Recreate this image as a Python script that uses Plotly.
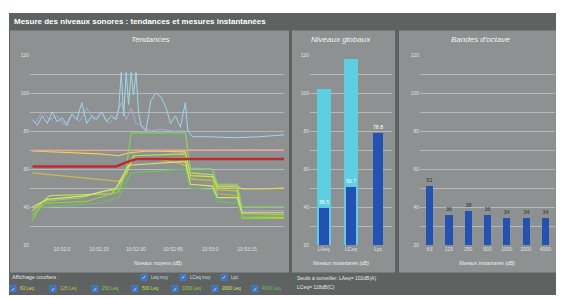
import plotly.graph_objects as go
import pandas as pd

# Page has an 8px body margin: figure is placed at (8, 8) in the window.
OX, OY = 8, 8
W, H = 556, 290
DAY = "2024-05-14 "

# ---------------- data ----------------
time_ticks = ["10:52:00", "10:52:15", "10:52:30", "10:52:45", "10:53:00", "10:53:15"]
time_tick_labels = ["10:52:0", "10:52:15", "10:52:30", "10:52:45", "10:53:0", "10:53:15"]
time_range = ["10:51:47", "10:53:30"]

leq_moy_t = ["10:51:48", "10:52:22", "10:52:26", "10:52:30", "10:53:30"]
leq_moy_v = [61.4, 61.4, 63.5, 65.3, 65.3]

lceq_moy_t = ["10:51:48", "10:53:30"]
lceq_moy_v = [69.8, 70.0]

lpc_t = ["10:51:48", "10:51:50", "10:51:52", "10:51:54", "10:51:56", "10:51:58",
         "10:52:00", "10:52:02", "10:52:04", "10:52:06", "10:52:08", "10:52:10",
         "10:52:12", "10:52:14", "10:52:16", "10:52:18", "10:52:20", "10:52:22",
         "10:52:23", "10:52:24", "10:52:25", "10:52:26", "10:52:27", "10:52:28",
         "10:52:29", "10:52:30", "10:52:31", "10:52:32", "10:52:34", "10:52:36",
         "10:52:38", "10:52:40", "10:52:42", "10:52:44", "10:52:46", "10:52:48",
         "10:52:50", "10:52:51", "10:52:53", "10:53:00", "10:53:10", "10:53:20",
         "10:53:30"]
lpc_v = [86, 83, 88, 84, 90, 85, 87, 83, 89, 86, 95, 84, 88, 86, 90, 85, 88, 86,
         92, 111, 88, 111, 94, 111, 99, 111, 90, 83, 80, 96, 100, 98, 93, 84, 88, 82,
         95, 80, 77, 77, 76.5, 77, 78]

laeq_t = ["10:51:49", "10:51:52", "10:51:55", "10:51:58", "10:52:01", "10:52:04",
          "10:52:07", "10:52:10", "10:52:13", "10:52:16", "10:52:19", "10:52:22",
          "10:52:24", "10:52:26", "10:52:28", "10:52:30", "10:52:33", "10:52:36",
          "10:52:40", "10:52:45", "10:52:50", "10:52:52", "10:53:01", "10:53:03",
          "10:53:11", "10:53:13", "10:53:30"]
laeq_v = [84, 90, 86, 88, 83, 89, 85, 92, 86, 90, 84, 88, 95, 86, 92, 84, 82, 80,
          81, 80, 80, 60, 60, 52, 52, 38, 38]

b63_t = ["10:51:48", "10:52:00", "10:52:15", "10:52:23", "10:52:27", "10:52:35", "10:52:50",
         "10:52:52", "10:53:01", "10:53:03", "10:53:11", "10:53:13", "10:53:20", "10:53:30"]
b63_v = [69.5, 69, 68, 67, 68.5, 69.5, 69, 56.5, 56, 51, 51, 49.5, 49.5, 50]

b125_t = ["10:51:48", "10:52:00", "10:52:10", "10:52:23", "10:52:26", "10:52:29", "10:52:40",
          "10:52:48", "10:52:51", "10:52:52", "10:53:01", "10:53:03", "10:53:11", "10:53:13",
          "10:53:30"]
b125_v = [58, 56.5, 55, 53.5, 58, 66, 65, 63, 61, 54.5, 54, 49, 48.5, 36.5, 36]

b250_t = ["10:51:48", "10:51:52", "10:52:00", "10:52:08", "10:52:15", "10:52:23", "10:52:26",
          "10:52:28", "10:52:50", "10:52:52", "10:53:01", "10:53:03", "10:53:11", "10:53:13",
          "10:53:30"]
b250_v = [33, 42.7, 44, 45, 47.8, 49.4, 60, 79, 79, 60.5, 60, 52, 52, 40, 40]

b500_t = ["10:51:48", "10:51:55", "10:52:20", "10:52:26", "10:52:29", "10:52:50", "10:52:52",
          "10:53:01", "10:53:03", "10:53:11", "10:53:13", "10:53:30"]
b500_v = [38, 46, 47, 57, 67, 68, 58, 57, 50, 50, 35, 34.5]

b1000_t = ["10:51:48", "10:51:53", "10:52:10", "10:52:23", "10:52:28", "10:52:50", "10:52:52",
           "10:53:01", "10:53:03", "10:53:11", "10:53:13", "10:53:30"]
b1000_v = [36, 42, 43, 48, 65, 66, 55, 54, 47, 46, 34, 34]

b2000_t = ["10:51:48", "10:51:54", "10:52:10", "10:52:22", "10:52:27", "10:52:50", "10:52:52",
           "10:53:01", "10:53:03", "10:53:11", "10:53:13", "10:53:30"]
b2000_v = [40, 44, 46, 50, 62, 64, 52, 51, 45, 45, 37, 37]

b4000_t = ["10:51:48", "10:51:52", "10:52:15", "10:52:23", "10:52:28", "10:52:50", "10:52:52",
           "10:53:01", "10:53:03", "10:53:11", "10:53:13", "10:53:30"]
b4000_v = [35, 40, 42, 45, 58, 60, 50, 49, 43, 42, 35, 35.5]

glob_cats = ["LAeq", "LCeq", "Lpc"]
glob_seuils = [102, 118, None]
glob_vals = [39.5, 50.7, 78.8]
glob_labels = ["39.5", "50.7", "78.8"]

oct_cats = ["63", "125", "250", "500", "1000", "2000", "4000"]
oct_vals = [51, 36, 38, 36, 34, 34, 34]
oct_labels = ["51", "36", "38", "36", "34", "34", "34"]

y_ticks = [20, 30, 40, 50, 60, 70, 80, 90, 100, 110, 120]
y_tick_labels = ["20", "", "40", "", "60", "", "80", "", "100", "", "120"]

title_text = "Mesure des niveaux sonores : tendances et mesures instantanées"
panel_titles = ["Tendances", "Niveaux globaux", "Bandes d'octave"]
axis_titles = ["Niveaux moyens (dB)", "Niveaux instantanés (dB)", "Niveaux instantanés (dB)"]
row1_labels = ["Leq moy", "LCeq moy", "Lpc"]
row2_labels = ["63 Leq", "125 Leq", "250 Leq", "500 Leq", "1000 Leq", "2000 Leq", "4000 Leq"]
seuil_lines = ["Seuils à surveiller: LAeq= 102dB(A)", "LCeq= 118dB(C)"]

# ---------------- styles ----------------
FONT = "Liberation Sans"
BG_DARK = "#5e6260"
PANEL = "#8e9191"
GRID = "#b6b9b9"
TICK = "#dfe1e1"
band_colors = ["#e4d84e", "#cdb94c", "#7fd35a", "#b9e24e", "#a2c842", "#d8e274", "#68c262"]
row1_colors = ["#c9d9f0", "#b8e6f0", "#d8d8f2"]


def ts(lst):
    return pd.to_datetime([DAY + s for s in lst])


def px(x):
    return (x - OX) / W


def py(y):
    return 1 - (y - OY) / H


fig = go.Figure()

# Trend lines
bands = [(b63_t, b63_v), (b125_t, b125_v), (b250_t, b250_v), (b500_t, b500_v),
         (b1000_t, b1000_v), (b2000_t, b2000_v), (b4000_t, b4000_v)]
fig.add_trace(go.Scatter(x=ts(laeq_t), y=laeq_v, mode="lines",
                         line=dict(color="#aba7dc", width=1), xaxis="x", yaxis="y"))
fig.add_trace(go.Scatter(x=ts(lpc_t), y=lpc_v, mode="lines",
                         line=dict(color="#9dd8e8", width=1), xaxis="x", yaxis="y"))
for (bt, bv), c in zip(bands, band_colors):
    fig.add_trace(go.Scatter(x=ts(bt), y=bv, mode="lines",
                             line=dict(color=c, width=1.2), xaxis="x", yaxis="y"))
fig.add_trace(go.Scatter(x=ts(lceq_moy_t), y=lceq_moy_v, mode="lines",
                         line=dict(color="#e8a2a0", width=1.5), xaxis="x", yaxis="y"))
fig.add_trace(go.Scatter(x=ts(leq_moy_t), y=leq_moy_v, mode="lines",
                         line=dict(color="#c3282c", width=2.5), xaxis="x", yaxis="y"))

# Global levels
fig.add_trace(go.Bar(x=glob_cats, y=glob_seuils, width=0.5, marker=dict(color="#5ccfe0", line=dict(width=0)),
                     xaxis="x2", yaxis="y2"))
fig.add_trace(go.Bar(x=glob_cats, y=glob_vals, width=0.36, marker=dict(color="#2452b4", line=dict(width=0)),
                     text=glob_labels, textposition="outside", cliponaxis=False,
                     textfont=dict(size=5.5, color="#ffffff", family=FONT),
                     xaxis="x2", yaxis="y2"))

# Octave bands
fig.add_trace(go.Bar(x=oct_cats, y=oct_vals, width=0.37, marker=dict(color="#2452b4", line=dict(width=0)),
                     text=oct_labels, textposition="outside", cliponaxis=False,
                     textfont=dict(size=5.5, color="#333333", family=FONT),
                     xaxis="x3", yaxis="y3"))

# ---------------- layout ----------------
shapes = [
    dict(type="rect", xref="paper", yref="paper", x0=px(9), x1=px(563), y0=py(298), y1=py(10),
         fillcolor=BG_DARK, line=dict(width=0), layer="below"),
]
for (x0, x1) in [(10, 289), (292, 395), (399, 561)]:
    shapes.append(dict(type="rect", xref="paper", yref="paper", x0=px(x0), x1=px(x1),
                       y0=py(275), y1=py(28), fillcolor=PANEL, line=dict(width=0), layer="below"))

annotations = [
    dict(text="<b>" + title_text + "</b>", x=px(12), y=py(19), xref="paper", yref="paper",
         xanchor="left", yanchor="middle", showarrow=False,
         font=dict(family=FONT, size=8, color="#ffffff")),
]
for t, xc in zip(panel_titles, [150, 341, 480]):
    annotations.append(dict(text=t, x=px(xc), y=py(37), xref="paper", yref="paper",
                            xanchor="center", yanchor="middle", showarrow=False,
                            font=dict(family=FONT, size=8, color="#f4f4f4", style="italic")))
for t, xc in zip(axis_titles, [158, 341, 487]):
    annotations.append(dict(text=t, x=px(xc), y=py(265), xref="paper", yref="paper",
                            xanchor="center", yanchor="middle", showarrow=False,
                            font=dict(family=FONT, size=5, color="#eeeeee", style="italic")))

annotations.append(dict(text="Affichage courbes :", x=px(10), y=py(280), xref="paper", yref="paper",
                        xanchor="left", yanchor="middle", showarrow=False,
                        font=dict(family=FONT, size=5.5, color="#e8e8e8")))


def checkbox(xc, yc, label, color):
    shapes.append(dict(type="rect", xref="paper", yref="paper",
                       x0=px(xc - 3), x1=px(xc + 3), y0=py(yc + 3), y1=py(yc - 3),
                       fillcolor="#2f72d6", line=dict(color="#5a90e0", width=0.5)))
    annotations.append(dict(text="✓", x=px(xc), y=py(yc), xref="paper", yref="paper",
                            xanchor="center", yanchor="middle", showarrow=False,
                            font=dict(family="DejaVu Sans", size=5, color="#ffffff")))
    annotations.append(dict(text=label, x=px(xc + 5), y=py(yc), xref="paper", yref="paper",
                            xanchor="left", yanchor="middle", showarrow=False,
                            font=dict(family=FONT, size=4.5, color=color)))


for lbl, xc, c in zip(row1_labels, [144, 183, 224], row1_colors):
    checkbox(xc, 280, lbl, c)
for lbl, xc, c in zip(row2_labels, [13, 53, 95, 135, 175, 215, 255], band_colors):
    checkbox(xc, 291.5, lbl, c)

for i, (t, yc) in enumerate(zip(seuil_lines, [281, 289.5])):
    annotations.append(dict(text=t, x=px(295), y=py(yc), xref="paper", yref="paper",
                            xanchor="left", yanchor="middle", showarrow=False,
                            font=dict(family=FONT, size=5, color="#e8e8e8")))

ydom = [py(247), py(53)]
yax_common = dict(range=[20, 120], tickvals=y_ticks, ticktext=y_tick_labels,
                  showgrid=True, gridcolor=GRID, gridwidth=1, zeroline=False, showline=False,
                  ticks="", tickfont=dict(family=FONT, size=5, color=TICK), fixedrange=True)
xax_common = dict(showgrid=False, zeroline=False, showline=False, ticks="",
                  tickfont=dict(family=FONT, size=5, color=TICK))

fig.update_layout(
    width=W, height=H, margin=dict(l=0, r=0, t=0, b=0),
    paper_bgcolor="#ffffff", plot_bgcolor="rgba(0,0,0,0)",
    showlegend=False, barmode="overlay", bargap=0,
    shapes=shapes, annotations=annotations,
    xaxis=dict(domain=[px(30), px(284)], anchor="y", type="date",
               range=[DAY + time_range[0], DAY + time_range[1]],
               tickvals=[DAY + s for s in time_ticks], ticktext=time_tick_labels, **xax_common),
    yaxis=dict(domain=ydom, anchor="x", **yax_common),
    xaxis2=dict(domain=[px(310), px(392)], anchor="y2", type="category",
                range=[-0.5, 2.5], **xax_common),
    yaxis2=dict(domain=ydom, anchor="x2", **yax_common),
    xaxis3=dict(domain=[px(420), px(555)], anchor="y3", type="category",
                range=[-0.5, 6.5], **xax_common),
    yaxis3=dict(domain=ydom, anchor="x3", **yax_common),
)

fig.write_html("out.html")
